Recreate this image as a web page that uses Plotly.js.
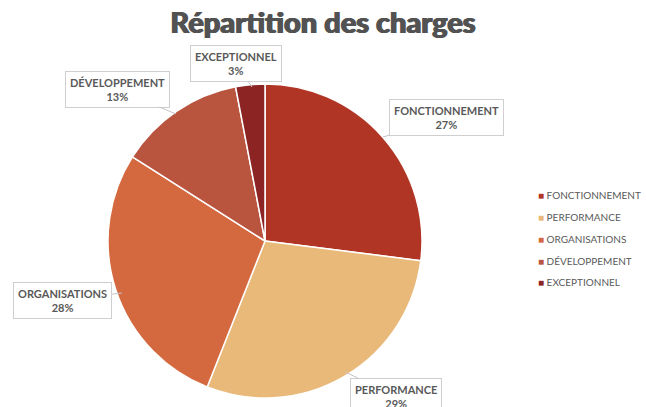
<!DOCTYPE html>
<html>
<head>
<meta charset="utf-8">
<script src="https://cdn.plot.ly/plotly-3.0.1.min.js"></script>
<style>
  html, body { margin: 0; padding: 0; background: #fff; }
  #chart { width: 646px; height: 407px; }
</style>
</head>
<body>
<div id="chart"></div>
<script>
// répartition des charges
var labels = ['FONCTIONNEMENT', 'PERFORMANCE', 'ORGANISATIONS', 'DÉVELOPPEMENT', 'EXCEPTIONNEL'];
var values = [27, 29, 28, 13, 3];

var colors = ['#b03524', '#e9b97a', '#d4693f', '#b9553f', '#8c2424'];

var W = 646, H = 407;
function px(x) { return x / W; }
function py(y) { return 1 - y / H; }

var pie = {
  type: 'pie',
  labels: labels,
  values: values,
  sort: false,
  direction: 'clockwise',
  rotation: 0,
  textinfo: 'none',
  hoverinfo: 'label+percent',
  showlegend: false,
  marker: { colors: colors, line: { color: '#ffffff', width: 1.5 } },
  domain: { x: [px(108), px(422)], y: [py(398), py(84)] }
};

// legend entries: small coloured square glyph before each name
var legendTraces = labels.map(function (lab, i) {
  return {
    type: 'scatter',
    mode: 'markers',
    x: [null],
    y: [null],
    name: '<span style="color:' + colors[i] + '">■</span> ' + lab,
    legendgroup: 'g' + i,
    marker: { symbol: 'square', size: 1, color: 'rgba(0,0,0,0)' },
    hoverinfo: 'skip'
  };
});

var data = [pie].concat(legendTraces);

// callout boxes: [target x, target y, box center x, box center y]
var callouts = [
  [383, 137, 446, 118],
  [345, 372, 396, 396],
  [122, 293, 63, 300],
  [176, 114, 117, 89],
  [252, 87, 236, 64]
];

var annotations = labels.map(function (lab, i) {
  var c = callouts[i];
  return {
    xref: 'paper', yref: 'paper',
    x: px(c[0]), y: py(c[1]),
    ax: c[2] - c[0], ay: c[3] - c[1],
    text: '<b>' + lab + '</b><br><b>' + values[i] + '%</b>',
    showarrow: true,
    arrowhead: 0,
    arrowwidth: 1,
    arrowcolor: '#c4c4c4',
    standoff: 0,
    bgcolor: '#ffffff',
    bordercolor: '#cfcfcf',
    borderwidth: 1,
    borderpad: 4,
    font: { family: 'Lato', size: 11, color: '#595959' }
  };
});

var layout = {
  width: W,
  height: H,
  margin: { l: 0, r: 0, t: 0, b: 0, autoexpand: false },
  paper_bgcolor: '#ffffff',
  plot_bgcolor: '#ffffff',
  title: {
    text: 'Répartition des charges',
    x: 0.5,
    xanchor: 'center',
    y: py(23),
    yanchor: 'middle',
    font: {
      family: 'Lato', size: 29, weight: 900, color: '#525252',
      shadow: '0.7px 0 0 #525252, -0.7px 0 0 #525252'
    }
  },
  xaxis: { visible: false },
  yaxis: { visible: false },
  showlegend: true,
  legend: {
    x: px(498),
    y: py(181),
    xanchor: 'left',
    yanchor: 'top',
    itemwidth: 30,
    traceorder: 'grouped',
    tracegroupgap: 2.7,
    font: { family: 'Lato', size: 10, color: '#595959' },
    bgcolor: 'rgba(0,0,0,0)'
  },
  annotations: annotations
};

var config = { responsive: false, displayModeBar: false };

Plotly.newPlot('chart', data, layout, config);
</script>
</body>
</html>
